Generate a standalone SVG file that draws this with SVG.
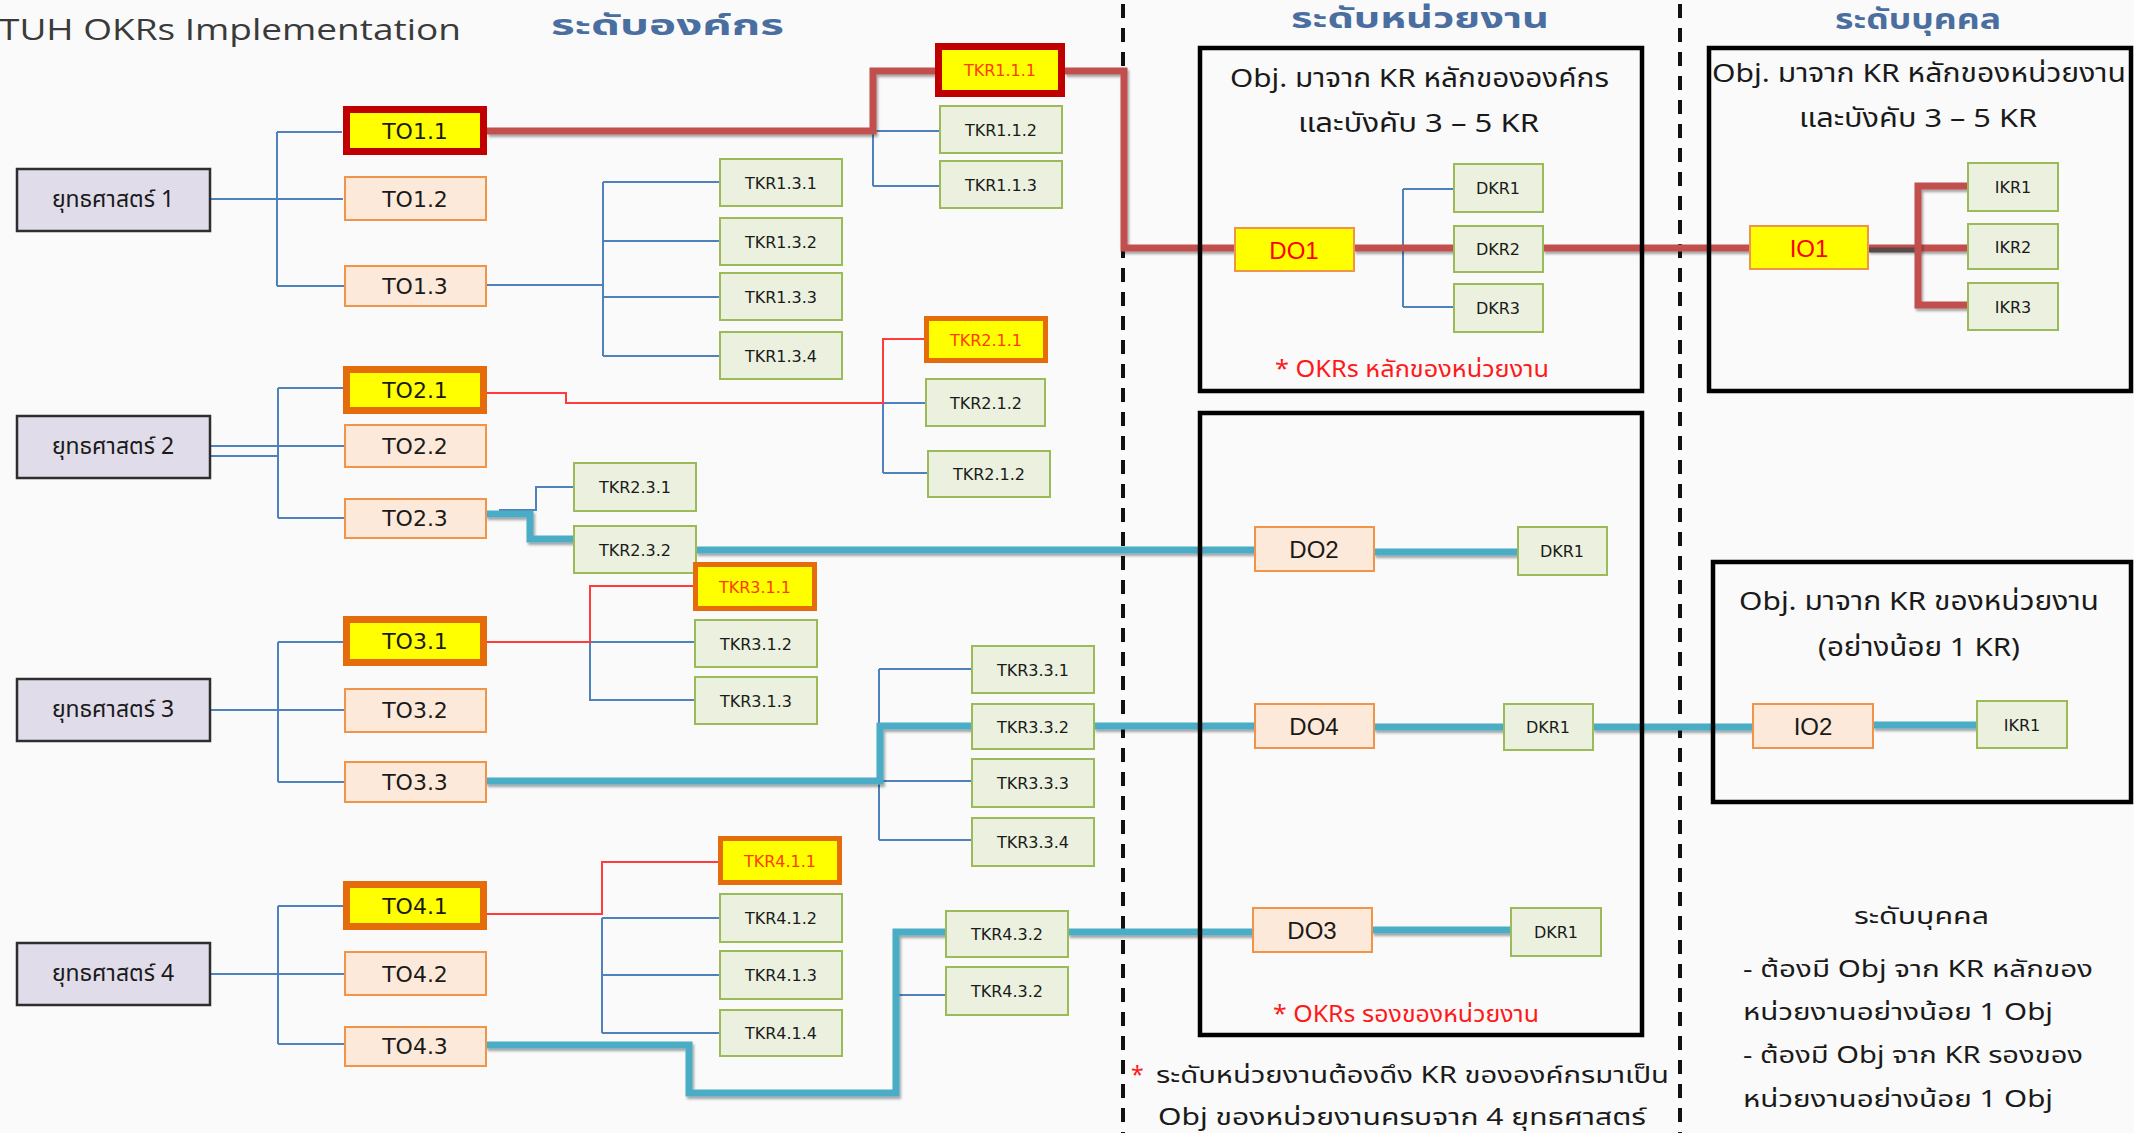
<svg xmlns="http://www.w3.org/2000/svg" width="2134" height="1133" viewBox="0 0 2134 1133">
  <defs>
    <filter id="sh" filterUnits="userSpaceOnUse" x="0" y="0" width="2134" height="1133">
      <feDropShadow dx="1.5" dy="2.5" stdDeviation="1.3" flood-color="#000" flood-opacity="0.35"/>
    </filter>
    <style>
      .bg { fill: #fafafa; }
      .st { fill: #e0dcea; stroke: #2e2e2e; stroke-width: 2.5; }
      .to { fill: #fde9d9; stroke: #f0944a; stroke-width: 2; }
      .toH { fill: #ffff00; stroke: #e46c0a; stroke-width: 7; }
      .toR { fill: #ffff00; stroke: #c00000; stroke-width: 7; }
      .tk { fill: #ebf1de; stroke: #9bbb59; stroke-width: 2; }
      .tkH { fill: #ffff00; stroke: #e46c0a; stroke-width: 5; }
      .tkR { fill: #ffff00; stroke: #c00000; stroke-width: 7; }
      .doY { fill: #ffff00; stroke: #f0944a; stroke-width: 2; }
      .frame { fill: none; stroke: #000; stroke-width: 4.5; }
      .dash { stroke: #111; stroke-width: 4; stroke-dasharray: 14 10; fill: none; }
      .b { fill: none; stroke: #4f81bd; stroke-width: 2; }
      .r { fill: none; stroke: #ff3b3b; stroke-width: 2; }
      .R { fill: none; stroke: #c0504d; stroke-width: 7; filter: url(#sh); }
      .B { fill: none; stroke: #4bacc6; stroke-width: 7; filter: url(#sh); }
      text { font-family: "DejaVu Sans", "Liberation Sans", sans-serif; fill: #1a1a1a; text-anchor: middle; dominant-baseline: central; }
      .tl { font-size: 22px; }
      .kl { font-size: 16px; }
      .kr { font-size: 16px; fill: #ff3c00; }
      .dl { font-family: "Liberation Sans", sans-serif; font-size: 24px; }
      .dr { font-family: "Liberation Sans", sans-serif; font-size: 24px; fill: #ff0000; }
      .sl { font-family: "Noto Sans Thai", "Noto Sans", "DejaVu Sans", sans-serif; font-size: 23px; }
      .th { font-family: "Noto Sans Thai", "Noto Sans", "DejaVu Sans", sans-serif; dominant-baseline: alphabetic; text-anchor: start; }
      .hd { font-size: 28px; font-weight: bold; fill: #4a6ea0; }
      .bx { font-size: 26px; fill: #1a1a1a; }
      .nt { font-size: 23px; fill: #ff1a1a; }
      .bd { font-size: 23px; fill: #1a1a1a; }
      .title { font-family: "Open Sans", "Liberation Sans", sans-serif; font-size: 30px; fill: #3a3a3a; text-anchor: start; dominant-baseline: alphabetic; }
    </style>
  </defs>

  <rect class="bg" x="0" y="0" width="2134" height="1133"/>

  <!-- headings -->
  <text class="title" x="-1" y="40" textLength="462" lengthAdjust="spacingAndGlyphs">TUH OKRs Implementation</text>
  <text class="th hd" x="551" y="35" textLength="233" lengthAdjust="spacingAndGlyphs">ระดับองค์กร</text>
  <text class="th hd" x="1291" y="28" textLength="258" lengthAdjust="spacingAndGlyphs">ระดับหน่วยงาน</text>
  <text class="th hd" x="1835" y="29" textLength="166" lengthAdjust="spacingAndGlyphs">ระดับบุคคล</text>

  <!-- level separators -->
  <line class="dash" x1="1123" y1="4" x2="1123" y2="1133"/>
  <line class="dash" x1="1680" y1="4" x2="1680" y2="1133"/>

  <!-- connectors -->
  <g id="connectors">
    <!-- strategy to team objectives -->
    <path class="b" d="M211,199 H343 M277,132 V286 M277,132 H342 M277,286 H345"/>
    <path class="b" d="M211,446 H345 M211,456 H278 M278,388 V518 M278,388 H343 M278,518 H345"/>
    <path class="b" d="M211,710 H345 M278,642 V782 M278,642 H343 M278,782 H345"/>
    <path class="b" d="M211,974 H345 M278,906 V1044 M278,906 H343 M278,1044 H345"/>
    <!-- objectives to key results -->
    <path class="b" d="M486,285 H603 M603,182 V356 M603,182 H720 M603,241 H720 M603,297 H720 M603,356 H720"/>
    <path class="b" d="M873,131 V186 M873,131 H940 M873,186 H940"/>
    <path class="b" d="M883,403 V473 M883,403 H926 M883,473 H928"/>
    <path class="b" d="M499,510 H536 V487 H574"/>
    <path class="b" d="M590,642 H695 M590,642 V700 H695"/>
    <path class="b" d="M879,669 V840 M879,669 H972 M879,781 H972 M879,840 H972"/>
    <path class="b" d="M602,918 V1033 M602,918 H720 M602,975 H720 M602,1033 H720"/>
    <path class="b" d="M896,995 H946"/>
    <path class="b" d="M1403,189 V307 M1403,189 H1454 M1403,307 H1454"/>
    <!-- highlighted key result links -->
    <path class="r" d="M487,393 H566 V403 H883 V339 H924"/>
    <path class="r" d="M487,642 H590 V586 H693"/>
    <path class="r" d="M487,914 H602 V862 H718"/>
    <!-- main cascade -->
    <path class="R" d="M487,131 H873 V71 H935"/>
    <path class="R" d="M1065,71 H1124 V248 H1235"/>
    <path class="R" d="M1354,248 H1454"/>
    <path class="R" d="M1543,248 H1750"/>
    <path class="R" d="M1868,248 H1968"/>
    <path fill="none" stroke="#5a4a4a" stroke-width="5" d="M1868,250 H1916"/>
    <path class="R" d="M1968,186 H1918 V305 H1968"/>
    <!-- secondary cascades -->
    <path class="B" d="M486,514 H530 V539 H574"/>
    <path class="B" d="M696,550 H1255"/>
    <path class="B" d="M1374,552 H1518"/>
    <path class="B" d="M486,781 H880 V726 H972"/>
    <path class="B" d="M1094,726 H1255"/>
    <path class="B" d="M1374,727 H1504"/>
    <path class="B" d="M1593,727 H1753"/>
    <path class="B" d="M1873,725 H1977"/>
    <path class="B" d="M486,1045 H689 V1093 H896 V932 H946"/>
    <path class="B" d="M1068,932 H1253"/>
    <path class="B" d="M1372,930 H1511"/>
  </g>

  <!-- level frames -->
  <g id="frames">
    <rect class="frame" x="1200" y="48" width="442" height="343"/>
    <rect class="frame" x="1709" y="48" width="422" height="343"/>
    <rect class="frame" x="1200" y="413" width="442" height="622"/>
    <rect class="frame" x="1713" y="562" width="418" height="240"/>
  </g>

  <!-- strategies -->
  <g id="S1"><rect class="st" x="17" y="169" width="193" height="62"/><text class="sl" x="113" y="200">ยุทธศาสตร์ 1</text></g>
  <g id="S2"><rect class="st" x="17" y="416" width="193" height="62"/><text class="sl" x="113" y="447">ยุทธศาสตร์ 2</text></g>
  <g id="S3"><rect class="st" x="17" y="679" width="193" height="62"/><text class="sl" x="113" y="710">ยุทธศาสตร์ 3</text></g>
  <g id="S4"><rect class="st" x="17" y="943" width="193" height="62"/><text class="sl" x="113" y="974">ยุทธศาสตร์ 4</text></g>

  <!-- team objectives -->
  <g id="TO1.1"><rect class="toR" x="346.5" y="109.5" width="137" height="42"/><text class="tl" x="415" y="131">TO1.1</text></g>
  <g id="TO1.2"><rect class="to" x="345" y="177" width="141" height="43"/><text class="tl" x="415" y="199">TO1.2</text></g>
  <g id="TO1.3"><rect class="to" x="345" y="266" width="141" height="40"/><text class="tl" x="415" y="286">TO1.3</text></g>
  <g id="TO2.1"><rect class="toH" x="346.5" y="369.5" width="137" height="41"/><text class="tl" x="415" y="390">TO2.1</text></g>
  <g id="TO2.2"><rect class="to" x="345" y="425" width="141" height="42"/><text class="tl" x="415" y="446">TO2.2</text></g>
  <g id="TO2.3"><rect class="to" x="345" y="499" width="141" height="39"/><text class="tl" x="415" y="518">TO2.3</text></g>
  <g id="TO3.1"><rect class="toH" x="346.5" y="619.5" width="137" height="43"/><text class="tl" x="415" y="641">TO3.1</text></g>
  <g id="TO3.2"><rect class="to" x="345" y="689" width="141" height="43"/><text class="tl" x="415" y="710">TO3.2</text></g>
  <g id="TO3.3"><rect class="to" x="345" y="762" width="141" height="40"/><text class="tl" x="415" y="782">TO3.3</text></g>
  <g id="TO4.1"><rect class="toH" x="346.5" y="884.5" width="137" height="42"/><text class="tl" x="415" y="906">TO4.1</text></g>
  <g id="TO4.2"><rect class="to" x="345" y="952" width="141" height="43"/><text class="tl" x="415" y="974">TO4.2</text></g>
  <g id="TO4.3"><rect class="to" x="345" y="1027" width="141" height="39"/><text class="tl" x="415" y="1046">TO4.3</text></g>

  <!-- team key results -->
  <g id="TKR1.1.1"><rect class="tkR" x="938.5" y="46.5" width="123" height="47"/><text class="kr" x="1000" y="70">TKR1.1.1</text></g>
  <g id="TKR1.1.2"><rect class="tk" x="940" y="106" width="122" height="47"/><text class="kl" x="1001" y="130">TKR1.1.2</text></g>
  <g id="TKR1.1.3"><rect class="tk" x="940" y="161" width="122" height="47"/><text class="kl" x="1001" y="185">TKR1.1.3</text></g>
  <g id="TKR1.3.1"><rect class="tk" x="720" y="159" width="122" height="47"/><text class="kl" x="781" y="183">TKR1.3.1</text></g>
  <g id="TKR1.3.2"><rect class="tk" x="720" y="218" width="122" height="47"/><text class="kl" x="781" y="242">TKR1.3.2</text></g>
  <g id="TKR1.3.3"><rect class="tk" x="720" y="273" width="122" height="47"/><text class="kl" x="781" y="297">TKR1.3.3</text></g>
  <g id="TKR1.3.4"><rect class="tk" x="720" y="332" width="122" height="47"/><text class="kl" x="781" y="356">TKR1.3.4</text></g>
  <g id="TKR2.1.1"><rect class="tkH" x="926.5" y="318.5" width="119" height="42"/><text class="kr" x="986" y="340">TKR2.1.1</text></g>
  <g id="TKR2.1.2a"><rect class="tk" x="926" y="379" width="119" height="47"/><text class="kl" x="986" y="403">TKR2.1.2</text></g>
  <g id="TKR2.1.2b"><rect class="tk" x="928" y="451" width="122" height="46"/><text class="kl" x="989" y="474">TKR2.1.2</text></g>
  <g id="TKR2.3.1"><rect class="tk" x="574" y="463" width="122" height="48"/><text class="kl" x="635" y="487">TKR2.3.1</text></g>
  <g id="TKR2.3.2"><rect class="tk" x="574" y="526" width="122" height="47"/><text class="kl" x="635" y="550">TKR2.3.2</text></g>
  <g id="TKR3.1.1"><rect class="tkH" x="695.5" y="564.5" width="119" height="44"/><text class="kr" x="755" y="587">TKR3.1.1</text></g>
  <g id="TKR3.1.2"><rect class="tk" x="695" y="620" width="122" height="47"/><text class="kl" x="756" y="644">TKR3.1.2</text></g>
  <g id="TKR3.1.3"><rect class="tk" x="695" y="677" width="122" height="47"/><text class="kl" x="756" y="701">TKR3.1.3</text></g>
  <g id="TKR3.3.1"><rect class="tk" x="972" y="646" width="122" height="47"/><text class="kl" x="1033" y="670">TKR3.3.1</text></g>
  <g id="TKR3.3.2"><rect class="tk" x="972" y="704" width="122" height="45"/><text class="kl" x="1033" y="727">TKR3.3.2</text></g>
  <g id="TKR3.3.3"><rect class="tk" x="972" y="759" width="122" height="48"/><text class="kl" x="1033" y="783">TKR3.3.3</text></g>
  <g id="TKR3.3.4"><rect class="tk" x="972" y="818" width="122" height="48"/><text class="kl" x="1033" y="842">TKR3.3.4</text></g>
  <g id="TKR4.1.1"><rect class="tkH" x="720.5" y="838.5" width="119" height="44"/><text class="kr" x="780" y="861">TKR4.1.1</text></g>
  <g id="TKR4.1.2"><rect class="tk" x="720" y="894" width="122" height="48"/><text class="kl" x="781" y="918">TKR4.1.2</text></g>
  <g id="TKR4.1.3"><rect class="tk" x="720" y="951" width="122" height="48"/><text class="kl" x="781" y="975">TKR4.1.3</text></g>
  <g id="TKR4.1.4"><rect class="tk" x="720" y="1010" width="122" height="46"/><text class="kl" x="781" y="1033">TKR4.1.4</text></g>
  <g id="TKR4.3.2a"><rect class="tk" x="946" y="911" width="122" height="46"/><text class="kl" x="1007" y="934">TKR4.3.2</text></g>
  <g id="TKR4.3.2b"><rect class="tk" x="946" y="967" width="122" height="48"/><text class="kl" x="1007" y="991">TKR4.3.2</text></g>

  <!-- unit level -->
  <g id="unit-main-note">
    <text class="th bx" x="1230" y="87" textLength="379" lengthAdjust="spacingAndGlyphs">Obj. มาจาก  KR หลักขององค์กร</text>
    <text class="th bx" x="1298" y="132" textLength="241" lengthAdjust="spacingAndGlyphs">และบังคับ 3 – 5 KR</text>
    <text class="th nt" x="1275" y="377" textLength="274" lengthAdjust="spacingAndGlyphs">* OKRs หลักของหน่วยงาน</text>
  </g>
  <g id="DO1"><rect class="doY" x="1235" y="228" width="119" height="43"/><text class="dr" x="1294" y="250">DO1</text></g>
  <g id="DKR1-a"><rect class="tk" x="1454" y="164" width="89" height="48"/><text class="kl" x="1498" y="188">DKR1</text></g>
  <g id="DKR2"><rect class="tk" x="1454" y="226" width="89" height="46"/><text class="kl" x="1498" y="249">DKR2</text></g>
  <g id="DKR3"><rect class="tk" x="1454" y="284" width="89" height="48"/><text class="kl" x="1498" y="308">DKR3</text></g>

  <g id="DO2"><rect class="to" x="1255" y="527" width="119" height="44"/><text class="dl" x="1314" y="549">DO2</text></g>
  <g id="DKR1-b"><rect class="tk" x="1518" y="527" width="89" height="48"/><text class="kl" x="1562" y="551">DKR1</text></g>
  <g id="DO4"><rect class="to" x="1255" y="704" width="119" height="44"/><text class="dl" x="1314" y="726">DO4</text></g>
  <g id="DKR1-c"><rect class="tk" x="1504" y="704" width="89" height="46"/><text class="kl" x="1548" y="727">DKR1</text></g>
  <g id="DO3"><rect class="to" x="1253" y="908" width="119" height="44"/><text class="dl" x="1312" y="930">DO3</text></g>
  <g id="DKR1-d"><rect class="tk" x="1511" y="908" width="90" height="48"/><text class="kl" x="1556" y="932">DKR1</text></g>
  <g id="unit-sub-note">
    <text class="th nt" x="1273" y="1022" textLength="266" lengthAdjust="spacingAndGlyphs">* OKRs รองของหน่วยงาน</text>
  </g>
  <g id="unit-rule">
    <text class="th nt" x="1131" y="1083">*</text>
    <text class="th bd" x="1156" y="1083" textLength="513" lengthAdjust="spacingAndGlyphs">ระดับหน่วยงานต้องดึง KR ขององค์กรมาเป็น</text>
    <text class="th bd" x="1158" y="1125" textLength="488" lengthAdjust="spacingAndGlyphs">Obj ของหน่วยงานครบจาก 4 ยุทธศาสตร์</text>
  </g>

  <!-- individual level -->
  <g id="person-main-note">
    <text class="th bx" x="1712" y="82" textLength="414" lengthAdjust="spacingAndGlyphs">Obj. มาจาก  KR หลักของหน่วยงาน</text>
    <text class="th bx" x="1799" y="127" textLength="238" lengthAdjust="spacingAndGlyphs">และบังคับ 3 – 5 KR</text>
  </g>
  <g id="IO1"><rect class="doY" x="1750" y="226" width="118" height="43"/><text class="dr" x="1809" y="248">IO1</text></g>
  <g id="IKR1-a"><rect class="tk" x="1968" y="163" width="90" height="48"/><text class="kl" x="2013" y="187">IKR1</text></g>
  <g id="IKR2"><rect class="tk" x="1968" y="224" width="90" height="45"/><text class="kl" x="2013" y="247">IKR2</text></g>
  <g id="IKR3"><rect class="tk" x="1968" y="283" width="90" height="47"/><text class="kl" x="2013" y="307">IKR3</text></g>

  <g id="person-sub-note">
    <text class="th bx" x="1739" y="610" textLength="360" lengthAdjust="spacingAndGlyphs">Obj. มาจาก  KR ของหน่วยงาน</text>
    <text class="th bx" x="1818" y="656" textLength="202" lengthAdjust="spacingAndGlyphs">(อย่างน้อย 1 KR)</text>
  </g>
  <g id="IO2"><rect class="to" x="1753" y="704" width="120" height="44"/><text class="dl" x="1813" y="726">IO2</text></g>
  <g id="IKR1-b"><rect class="tk" x="1977" y="701" width="90" height="47"/><text class="kl" x="2022" y="725">IKR1</text></g>

  <g id="person-rule">
    <text class="th bd" x="1854" y="924" textLength="135" lengthAdjust="spacingAndGlyphs">ระดับบุคคล</text>
    <text class="th bd" x="1743" y="977" textLength="350" lengthAdjust="spacingAndGlyphs">- ต้องมี Obj จาก KR หลักของ</text>
    <text class="th bd" x="1743" y="1020" textLength="310" lengthAdjust="spacingAndGlyphs">หน่วยงานอย่างน้อย  1 Obj</text>
    <text class="th bd" x="1743" y="1063" textLength="340" lengthAdjust="spacingAndGlyphs">- ต้องมี Obj จาก KR รองของ</text>
    <text class="th bd" x="1743" y="1107" textLength="310" lengthAdjust="spacingAndGlyphs">หน่วยงานอย่างน้อย  1 Obj</text>
  </g>
</svg>
